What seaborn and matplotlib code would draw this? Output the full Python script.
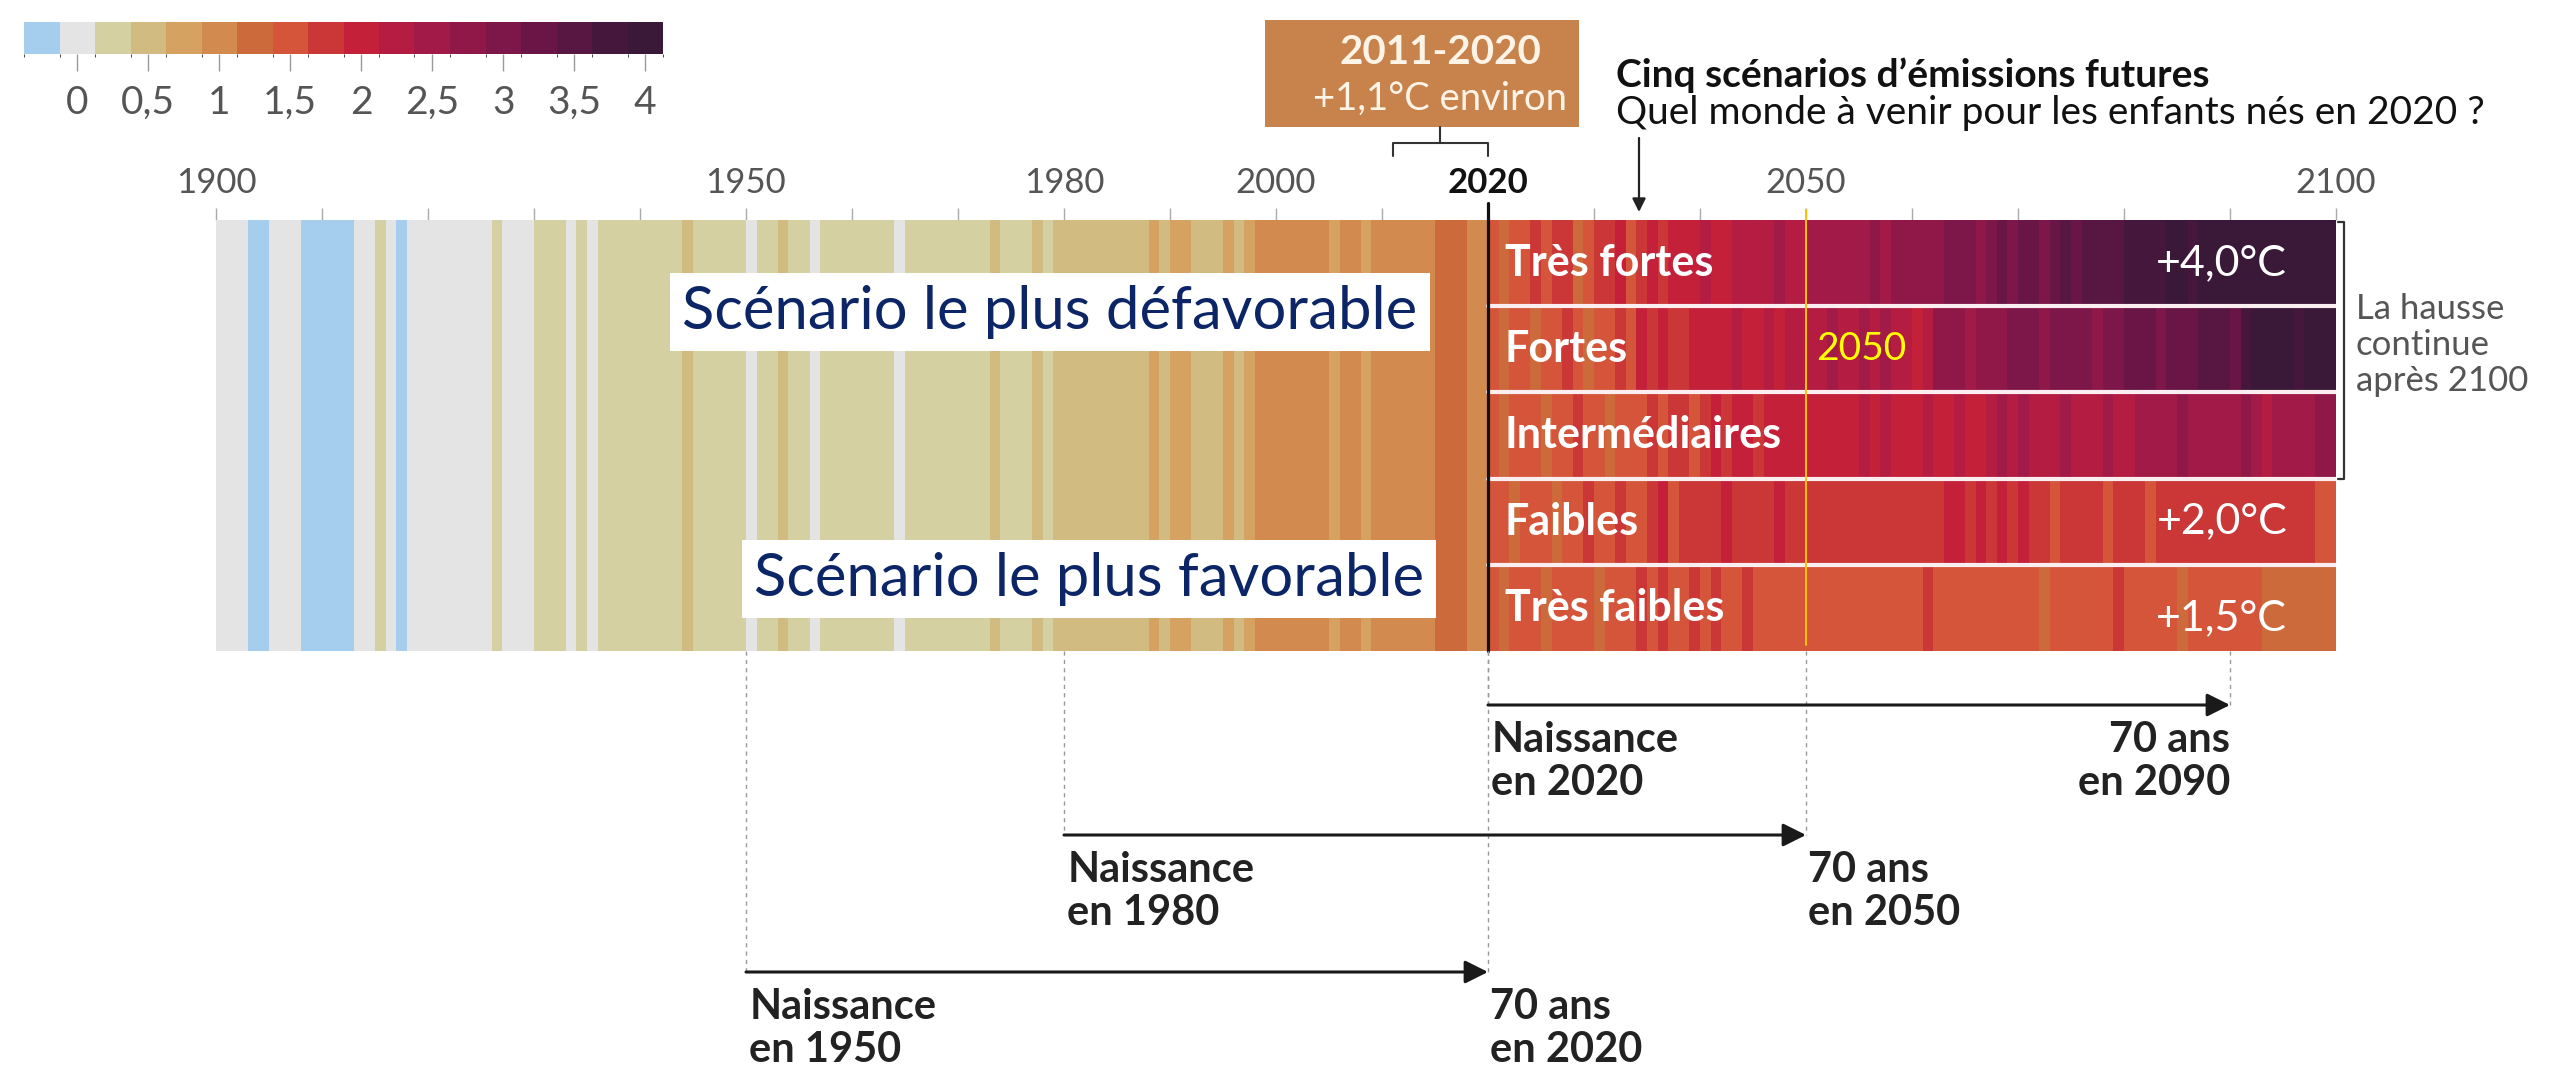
import numpy as np
import pandas as pd
import matplotlib as mpl
import matplotlib.pyplot as plt
import matplotlib.colors as mcolors
import matplotlib.patches as mpatches
import seaborn as sns

sns.set_style('white')
plt.rcParams['font.family'] = ['Lato', 'DejaVu Sans']

# --- colour scale: one colour per 0.25 °C step (warming vs 1850-1900) ---
level_values = [-0.25, 0, 0.25, 0.5, 0.75, 1.0, 1.25, 1.5, 1.75, 2.0,
                2.25, 2.5, 2.75, 3.0, 3.25, 3.5, 3.75, 4.0]
level_colors = ['#a5cdee', '#e4e4e4', '#d4d0a2', '#d2bb81', '#d5a262', '#d38a4f',
                '#cd6a3c', '#d5553b', '#cb3636', '#c42039', '#b51c42', '#a21a47',
                '#901849', '#7d1749', '#691646', '#571742', '#46173d', '#3a1838']
legend_ticks = [0, 0.5, 1, 1.5, 2, 2.5, 3, 3.5, 4]
legend_labels = ['0', '0,5', '1', '1,5', '2', '2,5', '3', '3,5', '4']

# --- observed stripes 1900-2019 ---
hist_years = list(range(1900, 2020))
hist_anom = [
    0, 0, 0, -0.25, -0.25, 0, 0, 0, -0.25, -0.25,
    -0.25, -0.25, -0.25, 0, 0, 0.25, 0, -0.25, 0, 0,
    0, 0, 0, 0, 0, 0, 0.25, 0, 0, 0,
    0.25, 0.25, 0.25, 0, 0.25, 0, 0.25, 0.25, 0.25, 0.25,
    0.25, 0.25, 0.25, 0.25, 0.5, 0.25, 0.25, 0.25, 0.25, 0.25,
    0, 0.25, 0.25, 0.5, 0.25, 0.25, 0, 0.25, 0.25, 0.25,
    0.25, 0.25, 0.25, 0.25, 0, 0.25, 0.25, 0.25, 0.25, 0.25,
    0.25, 0.25, 0.25, 0.5, 0.25, 0.25, 0.25, 0.5, 0.25, 0.5,
    0.5, 0.5, 0.5, 0.5, 0.5, 0.5, 0.5, 0.5, 0.75, 0.5,
    0.75, 0.75, 0.5, 0.5, 0.5, 0.75, 0.5, 0.75, 1.0, 1.0,
    1.0, 1.0, 1.0, 1.0, 1.0, 0.75, 1.0, 1.0, 0.75, 1.0,
    1.0, 1.0, 1.0, 1.0, 1.0, 1.25, 1.25, 1.25, 1.0, 1.0,
]

# --- five emission scenarios 2020-2099 ---
future_years = list(range(2020, 2100))
scenarios = ['Très fortes', 'Fortes', 'Intermédiaires', 'Faibles', 'Très faibles']
tres_fortes = [
    1.5, 1.25, 1.5, 1.5, 1.75, 1.5, 1.75, 1.75, 1.25, 1.5,
    1.75, 1.75, 2.0, 1.5, 1.75, 2.0, 1.75, 2.0, 2.0, 2.0,
    2.25, 2.0, 2.0, 2.25, 2.25, 2.25, 2.25, 2.5, 2.25, 2.25,
    2.5, 2.5, 2.5, 2.5, 2.5, 2.5, 2.75, 2.5, 2.75, 2.75,
    2.75, 2.75, 2.75, 3.0, 3.0, 3.0, 2.75, 3.0, 3.25, 3.0,
    3.25, 3.25, 3.0, 3.25, 3.5, 3.25, 3.5, 3.5, 3.5, 3.5,
    3.75, 3.75, 3.75, 3.75, 4.0, 4.0, 3.75, 4.0, 4.0, 4.0,
    4.0, 4.0, 4.0, 4.0, 4.0, 4.0, 4.0, 4.0, 4.0, 4.0,
]
fortes = [
    1.5, 1.25, 1.5, 1.5, 1.25, 1.5, 1.5, 1.75, 1.5, 1.25,
    1.5, 1.5, 1.75, 1.5, 2.0, 1.75, 2.0, 1.75, 1.75, 2.0,
    2.0, 2.0, 2.0, 2.25, 2.0, 2.0, 2.25, 2.0, 2.25, 2.25,
    2.25, 2.25, 2.5, 2.25, 2.25, 2.5, 2.25, 2.5, 2.25, 2.25,
    2.0, 2.25, 2.75, 2.75, 2.75, 2.5, 2.75, 2.75, 2.75, 3.0,
    3.0, 3.0, 2.75, 3.0, 3.0, 3.0, 3.0, 2.75, 3.0, 3.0,
    3.25, 3.25, 3.25, 3.0, 3.25, 3.25, 3.25, 3.5, 3.5, 3.5,
    3.25, 3.75, 4.0, 4.0, 4.0, 4.0, 3.75, 4.0, 4.0, 4.0,
]
intermediaires = [
    1.5, 1.25, 1.5, 1.5, 1.5, 1.25, 1.5, 1.5, 1.75, 1.5,
    1.5, 1.25, 1.5, 1.5, 1.5, 1.75, 1.5, 1.75, 1.75, 1.5,
    1.75, 2.0, 1.75, 2.0, 2.0, 1.75, 2.0, 2.0, 2.0, 2.0,
    2.0, 2.0, 2.0, 2.0, 2.0, 2.25, 2.0, 2.25, 2.0, 2.0,
    2.0, 2.25, 2.0, 2.0, 2.25, 2.0, 2.0, 2.25, 2.5, 2.25,
    2.5, 2.25, 2.25, 2.25, 2.5, 2.25, 2.25, 2.25, 2.5, 2.25,
    2.25, 2.5, 2.5, 2.5, 2.5, 2.75, 2.5, 2.5, 2.5, 2.5,
    2.5, 2.75, 2.5, 2.25, 2.5, 2.5, 2.5, 2.5, 2.75, 2.75,
]
faibles = [
    1.5, 1.5, 1.25, 1.5, 1.5, 1.5, 1.25, 1.5, 1.5, 1.75,
    1.5, 1.5, 1.75, 1.5, 1.5, 1.75, 2.0, 1.5, 1.75, 1.75,
    1.75, 1.75, 2.0, 1.75, 1.75, 1.75, 1.75, 2.0, 1.75, 1.75,
    1.75, 1.75, 1.75, 1.75, 1.75, 1.75, 1.75, 1.75, 1.75, 1.75,
    1.75, 1.75, 1.75, 2.0, 2.0, 1.75, 2.0, 1.75, 2.0, 1.75,
    2.0, 1.75, 1.75, 1.5, 1.75, 1.75, 1.75, 1.75, 1.5, 1.75,
    1.75, 1.75, 1.5, 1.75, 1.75, 1.75, 1.75, 1.75, 1.75, 1.75,
    1.75, 1.75, 1.75, 1.75, 1.75, 1.75, 1.75, 1.75, 1.5, 1.5,
]
tres_faibles = [
    1.5, 1.25, 1.5, 1.5, 1.5, 1.25, 1.5, 1.5, 1.5, 1.5,
    1.25, 1.5, 1.5, 1.5, 1.75, 1.5, 1.75, 1.5, 1.5, 1.75,
    1.5, 1.75, 1.5, 1.5, 1.75, 1.5, 1.5, 1.5, 1.5, 1.5,
    1.5, 1.5, 1.5, 1.5, 1.5, 1.5, 1.5, 1.5, 1.5, 1.5,
    1.5, 1.75, 1.5, 1.5, 1.5, 1.5, 1.5, 1.5, 1.5, 1.5,
    1.5, 1.5, 1.25, 1.5, 1.5, 1.5, 1.5, 1.5, 1.5, 1.75,
    1.5, 1.5, 1.5, 1.5, 1.5, 1.25, 1.5, 1.5, 1.5, 1.5,
    1.5, 1.5, 1.5, 1.25, 1.25, 1.25, 1.25, 1.25, 1.25, 1.25,
]
end_labels = ['+4,0°C', '', '', '+2,0°C', '+1,5°C']

year_ticks = list(range(1900, 2101, 10))
shown_years = [1900, 1950, 1980, 2000, 2020, 2050, 2100]
births = [2020, 1980, 1950]
life = 70

# one row per scenario, the observed years are shared by every row
future = [tres_fortes, fortes, intermediaires, faibles, tres_faibles]
df = pd.DataFrame([hist_anom + f for f in future], index=scenarios,
                  columns=hist_years + future_years)

cmap = mcolors.ListedColormap(level_colors)
bounds = np.append(np.array(level_values) - 0.125, level_values[-1] + 0.125)
norm = mcolors.BoundaryNorm(bounds, cmap.N)

# --- layout (pixels of the 2552 x 1070 picture) ---
W, H = 2552, 1070
X0, X1 = 216, 2336
Y0, Y1 = 220, 651
n_years = df.shape[1]
row_h = (Y1 - Y0) / len(scenarios)


def px2yr(p):
    return hist_years[0] + (p - X0) / (X1 - X0) * n_years


fig = plt.figure(figsize=(W / 100, H / 100), dpi=100)
ax = fig.add_axes([X0 / W, 1 - Y1 / H, (X1 - X0) / W, (Y1 - Y0) / H])
sns.heatmap(df, ax=ax, cmap=cmap, norm=norm, cbar=False,
            xticklabels=False, yticklabels=False)
ax.set_xlabel('')
ax.set_ylabel('')

# year axis on top
ax.xaxis.tick_top()
ax.set_xticks([y - hist_years[0] for y in year_ticks])
ax.set_xticklabels([str(y) if y in shown_years else '' for y in year_ticks])
ax.tick_params(axis='x', top=True, bottom=False, length=9, width=1,
               color='#aaaaaa', pad=6, labelsize=25, labelcolor='#555555')
for lab in ax.get_xticklabels():
    if lab.get_text() == '2020':
        lab.set_fontweight('bold')
        lab.set_color('#111111')

# separators between the scenarios
start = future_years[0] - hist_years[0]
for i in range(1, len(scenarios)):
    ax.plot([start, n_years], [i, i], color='#fbeef0', lw=3)

for i, name in enumerate(scenarios):
    ax.text(start + 1.6, i + 0.5, name, color='white', fontsize=31,
            fontweight='bold', ha='left', va='center')
    if end_labels[i]:
        dy = 0.12 if i == len(scenarios) - 1 else 0
        ax.text(n_years - 4.6, i + 0.5 + dy, end_labels[i], color='white',
                fontsize=31, ha='right', va='center')

# --- overlay in (year, pixel) coordinates ---
ov = fig.add_axes([0, 0, 1, 1], zorder=5)
ov.set_xlim(px2yr(0), px2yr(W))
ov.set_ylim(H, 0)
ov.axis('off')

ov.plot([2020, 2020], [203, Y1], color='#111111', lw=2.3)
ov.plot([2050, 2050], [210, Y1 - 6], color='#f5c400', lw=1.4)
ov.text(2051, Y0 + 1.5 * row_h, '2050', color='#ffff00', fontsize=28,
        ha='left', va='center')

box_kw = dict(boxstyle='square,pad=0.2', fc='white', ec='none')
ov.text(px2yr(1050), 312, 'Scénario le plus défavorable', fontsize=43,
        color='#0b2566', ha='center', va='center', bbox=box_kw)
ov.text(px2yr(1089), 579, 'Scénario le plus favorable', fontsize=43,
        color='#0b2566', ha='center', va='center', bbox=box_kw)

# 2011-2020 box and bracket
ov.add_patch(mpatches.Rectangle((px2yr(1265), 20), px2yr(1579) - px2yr(1265), 107,
                                fc='#c8834c', ec='none'))
ov.text(2015.5, 52, '2011-2020', color='#fdf3e7', fontsize=29,
        fontweight='bold', ha='center', va='center')
ov.text(2015.5, 99, '+1,1°C environ', color='#fdf3e7', fontsize=27.5,
        ha='center', va='center')
ov.plot([2011, 2011, 2020, 2020], [156, 143, 143, 156], color='#333333', lw=1.5)
ov.plot([2015.5, 2015.5], [127, 143], color='#333333', lw=1.5)

# title
ov.text(px2yr(1616), 75, 'Cinq scénarios d\u2019émissions futures', fontsize=28,
        fontweight='bold', color='#111111', ha='left', va='center')
ov.text(px2yr(1616), 113, 'Quel monde à venir pour les enfants nés en 2020 ?',
        fontsize=28, color='#111111', ha='left', va='center')
ov.annotate('', xy=(px2yr(1639), 212), xytext=(px2yr(1639), 138),
            arrowprops=dict(arrowstyle='-|>', color='#222222', lw=1.6,
                            mutation_scale=20, shrinkA=0, shrinkB=0))

# right bracket
bx = px2yr(X1 + 8)
ov.plot([px2yr(X1 + 2), bx, bx, px2yr(X1 + 2)],
        [Y0 + 2, Y0 + 2, Y0 + 3 * row_h, Y0 + 3 * row_h], color='#333333', lw=1.6)
ov.text(px2yr(X1 + 20), Y0 + 1.45 * row_h, 'La hausse\ncontinue\naprès 2100',
        fontsize=25, color='#555555', ha='left', va='center', linespacing=1.15)

# lifetimes of children born in 1950, 1980, 2020
arrow_y = [705, 835, 972]
for birth, ya in zip(births, arrow_y):
    end = birth + life
    for yr in (birth, end):
        ov.plot([yr, yr], [Y1, ya], color='#999999', lw=1, ls=(0, (3, 3)))
    ov.annotate('', xy=(end, ya), xytext=(birth, ya),
                arrowprops=dict(arrowstyle='-|>,head_length=0.5,head_width=0.25',
                                color='#1a1a1a', lw=2.2, mutation_scale=28,
                                shrinkA=0, shrinkB=0))
    ov.text(birth + 0.3, ya + 16, f'Naissance\nen {birth}', fontsize=30,
            fontweight='bold', color='#222222', ha='left', va='top',
            linespacing=1.15)
    right = end > 2080
    ov.text(end + (0 if right else 0.2), ya + 16, f'{life} ans\nen {end}',
            fontsize=30, fontweight='bold', color='#222222',
            ha='right' if right else 'left', va='top', linespacing=1.15)

# colour legend
cax = fig.add_axes([24 / W, 1 - 54 / H, (663 - 24) / W, (54 - 22) / H])
cb = fig.colorbar(mpl.cm.ScalarMappable(norm=norm, cmap=cmap), cax=cax,
                  orientation='horizontal')
cb.set_ticks(legend_ticks)
cb.set_ticklabels(legend_labels)
cb.outline.set_visible(False)
cax.tick_params(length=12, width=1, color='#999999', pad=10,
                labelsize=28, labelcolor='#555555')

fig.savefig('out.png', dpi=100, facecolor='white')
